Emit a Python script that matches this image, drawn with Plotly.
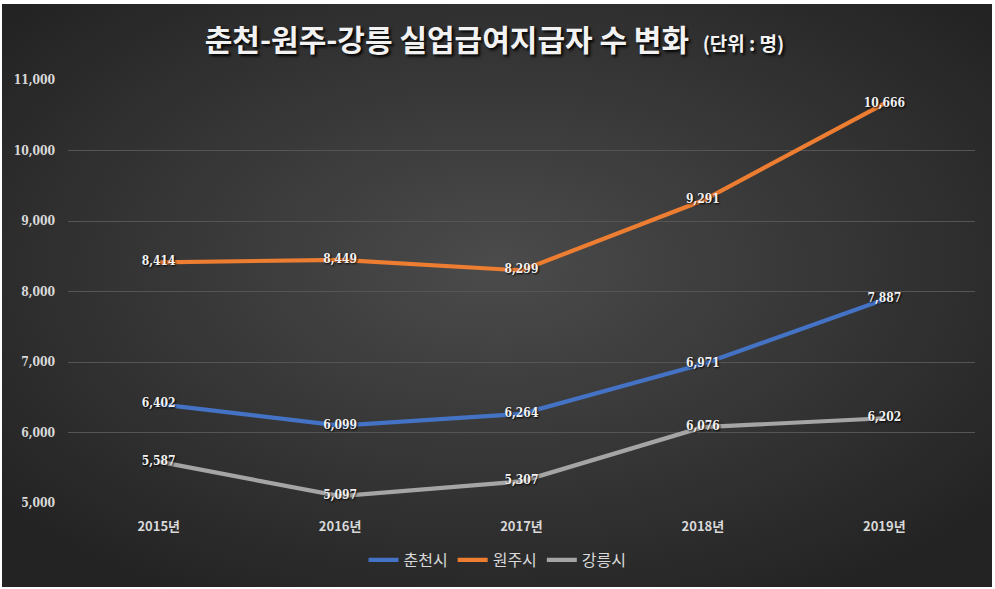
import base64
import plotly.graph_objects as go

years = ["2015년", "2016년", "2017년", "2018년", "2019년"]
chuncheon = [6402, 6099, 6264, 6971, 7887]
wonju = [8414, 8449, 8299, 9291, 10666]
gangneung = [5587, 5097, 5307, 6076, 6202]
series_names = ["춘천시", "원주시", "강릉시"]
colors = ["#4472C4", "#ED7D31", "#A5A5A5"]

W, H = 995, 589
ml, mr, mt, mb = 68, 20, 80, 86
pw, ph = W - ml - mr, H - mt - mb

svg = f'''<svg xmlns="http://www.w3.org/2000/svg" width="{W}" height="{H}">
<defs><radialGradient id="g" cx="50%" cy="45%" r="65%">
<stop offset="0%" stop-color="#4b4b4b"/><stop offset="100%" stop-color="#232323"/>
</radialGradient></defs>
<rect width="{W}" height="{H}" fill="#ffffff"/>
<rect x="2" y="4" width="{W-5}" height="{H-6}" fill="url(#g)"/></svg>'''
src = "data:image/svg+xml;base64," + base64.b64encode(svg.encode()).decode()

fig = go.Figure()
for name, vals, col in zip(series_names, [chuncheon, wonju, gangneung], colors):
    fig.add_trace(go.Scatter(
        x=years, y=vals, name=name, mode="lines+text",
        line=dict(color=col, width=4.2),
        text=[f"{v:,}" for v in vals], textposition="middle center",
        textfont=dict(color="#f2f2f2", size=12, family="DejaVu Serif Condensed, DejaVu Serif",
                      weight="bold", shadow="1px 1px 2px #000"),
        cliponaxis=False,
    ))

fig.update_layout(
    width=W, height=H,
    margin=dict(l=ml, r=mr, t=mt, b=mb, autoexpand=False),
    paper_bgcolor="#ffffff", plot_bgcolor="rgba(0,0,0,0)",
    images=[dict(source=src, xref="paper", yref="paper",
                 x=-ml / pw, y=1 + mt / ph, sizex=W / pw, sizey=H / ph,
                 xanchor="left", yanchor="top", sizing="stretch", layer="below")],
    title=dict(
        text="춘천-원주-강릉 실업급여지급자 수 변화  <span style='font-size:19px'>(단위 : 명)</span>",
        x=0.497, xref="container", xanchor="center", y=1 - 40 / H, yanchor="middle",
        font=dict(family="Noto Sans CJK KR", size=30, color="#f2f2f2", weight="bold",
                  shadow="2px 2px 3px #000"),
    ),
    xaxis=dict(range=[-0.5, 4.5], showgrid=False, showline=False, zeroline=False,
               tickfont=dict(family="Liberation Sans Narrow, Noto Sans CJK KR", size=13,
                             color="#d9d9d9", weight="bold"),
               ticklabelstandoff=14),
    yaxis=dict(range=[5000, 11000], dtick=1000, tickformat=",",
               showgrid=True, gridcolor="#555555", gridwidth=1, zeroline=False,
               showline=False,
               tickfont=dict(family="DejaVu Serif Condensed, DejaVu Serif", size=12,
                             color="#d9d9d9", weight="bold"),
               ticklabelstandoff=12),
    legend=dict(orientation="h", x=(497.5 - ml) / pw, xanchor="center",
                y=-(560 - (H - mb)) / ph,
                yanchor="middle", font=dict(family="Noto Sans CJK KR", size=16, color="#d9d9d9"),
                bgcolor="rgba(0,0,0,0)", traceorder="normal"),
    showlegend=True,
)
fig.write_html("out.html", config={"displayModeBar": False},
               post_script="document.body.style.margin='0';document.body.style.padding='0';")
